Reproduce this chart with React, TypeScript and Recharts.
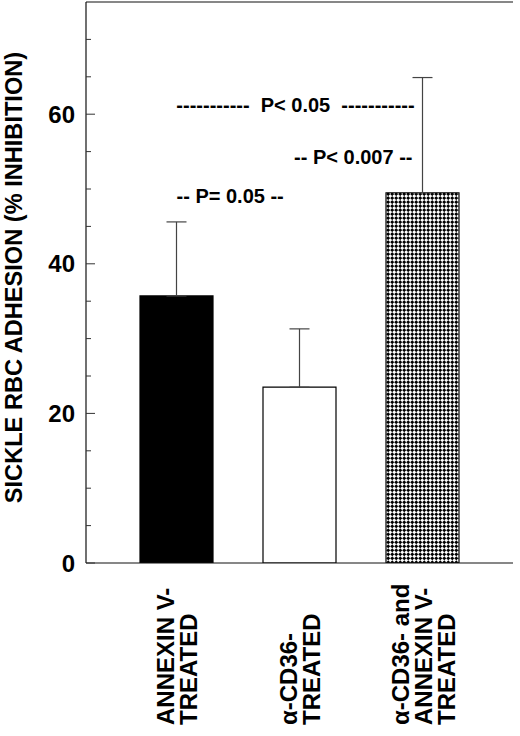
import React from 'react';
import { BarChart, Bar, XAxis, YAxis, Cell, ErrorBar, ReferenceDot, ReferenceLine } from 'recharts';

const categories = ['annexin', 'cd36', 'both'];
const categoryLabels = [
  ['ANNEXIN V-', 'TREATED'],
  ['α-CD36-', 'TREATED'],
  ['α-CD36- and', 'ANNEXIN V-', 'TREATED'],
];
const inhibition = [35.7, 23.5, 49.5];
const sdUpper = [9.9, 7.8, 15.4];
const barFills = ['#000000', '#ffffff', 'url(#crosshatch)'];
const majorTicks = [0, 20, 40, 60];
const minorTicks = [5, 10, 15, 25, 30, 35, 45, 50, 55, 65, 70];
const yMax = 75;
const yTitle = 'SICKLE RBC ADHESION (% INHIBITION)';
const annotationTexts = ['-----------  P< 0.05  -----------', '-- P< 0.007 --', '-- P= 0.05 --'];
const annotationCats = ['cd36', 'both', 'annexin'];
const annotationY = [61.2, 54.3, 49.1];

const allTicks = [...majorTicks, ...minorTicks].sort((a, b) => a - b);

const data = categories.map((c, i) => ({
  cat: c,
  value: inhibition[i],
  err: [0, sdUpper[i]],
}));

const FONT = '"Liberation Sans", Arial, Helvetica, sans-serif';

const XTick = (props: any) => {
  const { x, y, payload } = props;
  const idx = categories.indexOf(payload.value);
  const lines = categoryLabels[idx] || [];
  const n = lines.length;
  const L = 23;
  return (
    <g>
      {lines.map((ln, i) => {
        const bx = x + (i - (n - 1) / 2) * L + 9;
        return (
          <text
            key={i}
            x={0}
            y={0}
            transform={`translate(${bx},${y + 162}) rotate(-90)`}
            textAnchor="start"
            fontSize={24}
            fontWeight="bold"
            fontFamily={FONT}
            fill="#000"
          >
            {ln}
          </text>
        );
      })}
    </g>
  );
};

const LeftTick = (props: any) => {
  const { x, y, payload } = props;
  const v = payload.value;
  const major = majorTicks.includes(v);
  const ax = x + 11;
  return (
    <g>
      <line x1={ax} x2={ax + (major ? 9 : 5)} y1={y} y2={y} stroke="#333" strokeWidth={1} />
      {major && (
        <text
          x={x}
          y={y}
          textAnchor="end"
          dominantBaseline="central"
          fontSize={24}
          fontWeight="bold"
          fontFamily={FONT}
          fill="#000"
        >
          {v}
        </text>
      )}
    </g>
  );
};

const RightTick = (props: any) => {
  const { x, y, payload } = props;
  const v = payload.value;
  const major = majorTicks.includes(v);
  return <line x1={x} x2={x - (major ? 10 : 6)} y1={y} y2={y} stroke="#333" strokeWidth={1} />;
};

const YTitle = (props: any) => {
  const vb = props.viewBox || { x: 0, y: 0, width: 0, height: 0 };
  const cx = vb.x + 14;
  const cy = vb.y + vb.height / 2 - 5;
  return (
    <text
      x={0}
      y={0}
      transform={`translate(${cx},${cy}) rotate(-90)`}
      textAnchor="middle"
      dominantBaseline="central"
      fontSize={23.6}
      fontWeight="bold"
      fontFamily={FONT}
      fill="#000"
    >
      {yTitle}
    </text>
  );
};

const makeAnnot = (text: string, anchor: 'start' | 'middle' | 'end', dx: number) => (props: any) => {
  const vb = props.viewBox || { x: 0, y: 0, width: 0, height: 0 };
  const x = vb.x + vb.width / 2 + dx;
  const y = vb.y + vb.height / 2;
  return (
    <text
      x={x}
      y={y}
      textAnchor={anchor}
      dominantBaseline="central"
      fontSize={20}
      fontWeight="bold"
      fontFamily={FONT}
      fill="#000"
      style={{ whiteSpace: 'pre' }}
    >
      {text}
    </text>
  );
};

const annotAnchors: ('start' | 'middle' | 'end')[] = ['middle', 'end', 'start'];
const annotDx = [-4, -10, 0];

export default function App() {
  return (
    <div style={{ position: 'absolute', left: 0, top: 0, width: 520, height: 736, background: '#fff' }}>
      <svg width={0} height={0} style={{ position: 'absolute' }}>
        <defs>
          <pattern
            id="crosshatch"
            width={5.66}
            height={5.66}
            patternUnits="userSpaceOnUse"
            patternTransform="rotate(45)"
          >
            <rect width={5.66} height={5.66} fill="#fff" />
            <rect x={0} y={0} width={2.83} height={2.83} fill="#000" />
            <rect x={2.83} y={2.83} width={2.83} height={2.83} fill="#000" />
          </pattern>
        </defs>
      </svg>
      <BarChart
        width={520}
        height={736}
        data={data}
        margin={{ top: 2, right: 7, bottom: 3, left: 0 }}
      >
        <XAxis
          dataKey="cat"
          xAxisId="x"
          height={170}
          padding={{ left: 29, right: 29 }}
          tickLine={false}
          tickSize={0}
          tickMargin={0}
          axisLine={{ stroke: '#111', strokeWidth: 1.2 }}
          tick={<XTick />}
          interval={0}
        />
        <YAxis
          yAxisId="main"
          width={86}
          domain={[0, yMax]}
          ticks={allTicks}
          interval={0}
          tickLine={false}
          tickSize={0}
          tickMargin={11}
          axisLine={{ stroke: '#111', strokeWidth: 1.2 }}
          tick={<LeftTick />}
          label={<YTitle />}
          allowDataOverflow
        />
        <YAxis
          yAxisId="right"
          orientation="right"
          width={0}
          domain={[0, yMax]}
          ticks={allTicks}
          interval={0}
          tickLine={false}
          tickSize={0}
          tickMargin={0}
          tick={<RightTick />}
          axisLine={{ stroke: '#111', strokeWidth: 1.2 }}
        />
        <ReferenceLine yAxisId="main" xAxisId="x" y={yMax} stroke="#111" strokeWidth={1.2} />
        <Bar
          dataKey="value"
          xAxisId="x"
          yAxisId="main"
          barSize={73}
          stroke="#000"
          strokeWidth={1.2}
          isAnimationActive={false}
        >
          {data.map((d, i) => (
            <Cell key={d.cat} fill={barFills[i]} />
          ))}
          <ErrorBar dataKey="err" width={10} stroke="#444" strokeWidth={1.2} direction="y" isAnimationActive={false} />
        </Bar>
        {annotationTexts.map((t, i) => (
          <ReferenceDot
            key={i}
            xAxisId="x"
            yAxisId="main"
            x={annotationCats[i]}
            y={annotationY[i]}
            r={1}
            fill="none"
            stroke="none"
            label={makeAnnot(t, annotAnchors[i], annotDx[i])}
          />
        ))}
      </BarChart>
    </div>
  );
}
